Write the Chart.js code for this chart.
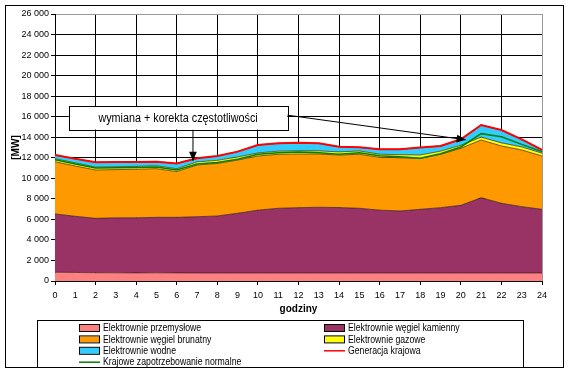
<!DOCTYPE html>
<html lang="pl">
<head>
  <meta charset="UTF-8">
  <title>Struktura generacji</title>
  <script src="https://cdn.jsdelivr.net/npm/chart.js"></script>
  <style>
    body { margin: 0; background: #fff; }
    #wrap { position: relative; width: 570px; height: 373px; }
  </style>
</head>
<body>
  <div id="wrap"><canvas id="myChart" width="570" height="373"></canvas></div>

  <script>
    // godziny 0..24
    const hours = ["0","1","2","3","4","5","6","7","8","9","10","11","12","13","14","15","16","17","18","19","20","21","22","23","24"];

    // MW
    const przemyslowe = [850,830,810,800,790,800,790,780,780,780,780,780,780,780,780,780,780,780,780,780,780,780,780,780,780];
    const kamienny    = [5680,5470,5290,5350,5360,5400,5410,5480,5550,5820,6120,6300,6360,6400,6370,6300,6120,6040,6200,6360,6590,7330,6790,6460,6200];
    const brunatny    = [5080,4900,4710,4700,4730,4740,4450,5040,5120,5180,5270,5260,5230,5190,5120,5260,5150,5180,4970,5200,5550,5620,5580,5520,5190];
    const gazowe      = [300,300,280,280,280,280,280,300,300,300,300,300,300,300,300,320,300,300,320,300,300,280,300,300,280];
    const wodne       = [370,400,470,450,430,400,520,350,420,520,780,770,800,740,510,360,480,530,720,510,580,1180,1250,740,310];
    const generacja   = [12270,11900,11560,11580,11590,11620,11450,11950,12170,12600,13250,13410,13470,13410,13080,13020,12830,12830,12990,13150,13800,15190,14700,13800,12760];
    const zapotrzebowanie = [11800,11400,11000,11020,11050,11100,10800,11400,11550,11850,12350,12500,12550,12500,12350,12500,12200,12100,11950,12400,13050,14350,14050,13300,12600];

    const yTicks = [0,2000,4000,6000,8000,10000,12000,14000,16000,18000,20000,22000,24000,26000];

    const adnotacja = "wymiana + korekta częstotliwości";

    function fmt(v) {
      return String(v).replace(/\B(?=(\d{3})+(?!\d))/g, " ");
    }

    function area(label, data, color, fill) {
      return {
        label: label, data: data, stack: "a", fill: fill,
        backgroundColor: color, borderColor: "rgba(40,20,20,0.8)", borderWidth: 0.8,
        pointRadius: 0, tension: 0
      };
    }

    // narrower text, like the original
    function narrowText(c, txt, x, y, sx) {
      c.save();
      c.translate(x, y);
      c.scale(sx, 1);
      c.fillText(txt, 0, 0);
      c.restore();
    }

    const frame = {
      id: "frame",
      beforeDraw(chart) {
        const c = chart.ctx;
        c.save();
        c.fillStyle = "#fff";
        c.fillRect(0, 0, chart.width, chart.height);
        c.strokeStyle = "#000";
        c.lineWidth = 1;
        c.strokeRect(5.5, 5.5, 558, 362);
        c.restore();
      },
      afterDraw(chart) {
        const c = chart.ctx;
        const x = chart.scales.x, y = chart.scales.y;
        c.save();
        function arrow(x1, y1, x2, y2) {
          c.strokeStyle = "#000"; c.fillStyle = "#000"; c.lineWidth = 1;
          c.beginPath(); c.moveTo(x1, y1); c.lineTo(x2, y2); c.stroke();
          const a = Math.atan2(y2 - y1, x2 - x1);
          c.beginPath();
          c.moveTo(x2, y2);
          c.lineTo(x2 - 10 * Math.cos(a - 0.4), y2 - 10 * Math.sin(a - 0.4));
          c.lineTo(x2 - 10 * Math.cos(a + 0.4), y2 - 10 * Math.sin(a + 0.4));
          c.closePath(); c.fill();
        }
        const bx1 = x.getPixelForValue(0.68), bx2 = x.getPixelForValue(11.45);
        const by1 = y.getPixelForValue(17050), by2 = y.getPixelForValue(14750);
        arrow(x.getPixelForValue(6.8), by2, x.getPixelForValue(6.8), y.getPixelForValue(11700));
        arrow(bx2, y.getPixelForValue(16150), x.getPixelForValue(20.25), y.getPixelForValue(13750));
        c.fillStyle = "#fff";
        c.fillRect(bx1, by1, bx2 - bx1, by2 - by1);
        c.strokeStyle = "#000";
        c.strokeRect(Math.round(bx1) + 0.5, Math.round(by1) + 0.5, Math.round(bx2 - bx1), Math.round(by2 - by1));
        c.fillStyle = "#000";
        c.font = "12px 'Liberation Sans', Arial, sans-serif";
        c.textAlign = "center"; c.textBaseline = "middle";
        narrowText(c, adnotacja, (bx1 + bx2) / 2, (by1 + by2) / 2 + 1, 0.9);

        // legend
        c.strokeStyle = "#000";
        c.lineWidth = 1;
        c.strokeRect(37.5, 320.5, 486, 47);
        c.font = "10px 'Liberation Sans', Arial, sans-serif";
        c.textAlign = "left";
        chart.data.datasets.forEach((ds, k) => {
          const col = k % 2, row = Math.floor(k / 2);
          const sx = col ? 324 : 79, ty = 328 + row * 11.4;
          if (ds.fill === false) {
            c.strokeStyle = ds.borderColor; c.lineWidth = 1.5;
            c.beginPath(); c.moveTo(sx, ty); c.lineTo(sx + 21, ty); c.stroke();
          } else {
            c.fillStyle = ds.backgroundColor;
            c.fillRect(sx, ty - 3, 21, 6);
            c.strokeStyle = "#000"; c.lineWidth = 1;
            c.strokeRect(sx + 0.5, ty - 3.5, 20, 7);
          }
          c.fillStyle = "#000";
          narrowText(c, ds.label, sx + 24, ty + 0.5, 0.87);
        });
        c.restore();
      }
    };

    new Chart(document.getElementById("myChart"), {
      type: "line",
      data: {
        labels: hours,
        datasets: [
          area("Elektrownie przemysłowe", przemyslowe, "#FF8080", "origin"),
          area("Elektrownie węgiel kamienny", kamienny, "#993366", "-1"),
          area("Elektrownie węgiel brunatny", brunatny, "#FF9900", "-1"),
          area("Elektrownie gazowe", gazowe, "#FFFF00", "-1"),
          area("Elektrownie wodne", wodne, "#33CCFF", "-1"),
          { type: "line", label: "Generacja krajowa", data: generacja, stack: "r", fill: false,
            borderColor: "#FF0000", borderWidth: 2, pointRadius: 0, order: -2 },
          { type: "line", label: "Krajowe zapotrzebowanie normalne", data: zapotrzebowanie, stack: "g", fill: false,
            borderColor: "#008000", borderWidth: 1.5, pointRadius: 0, order: -1 }
        ]
      },
      options: {
        responsive: false,
        animation: false,
        layout: { padding: { left: 10, right: 28, top: 14, bottom: 58 } },
        plugins: { legend: { display: false }, tooltip: { enabled: false } },
        scales: {
          x: {
            offset: false,
            grid: {
              color: (ctx) => ctx.index === 24 ? "#999" : (ctx.index % 2 === 0 ? "#000" : "rgba(0,0,0,0)"),
              tickColor: (ctx) => ctx.index % 2 === 0 ? "#000" : "rgba(0,0,0,0)",
              tickLength: 4
            },
            border: { color: "#000" },
            ticks: { color: "#000", font: { size: 9, family: "'Liberation Sans', Arial" }, maxRotation: 0, autoSkip: false, padding: 5 },
            title: { display: true, text: "godziny", color: "#000", padding: 0, font: { size: 10, weight: "bold", family: "'Liberation Sans', Arial" } },
            afterFit: (s) => { s.height = 34; }
          },
          y: {
            stacked: true,
            min: 0, max: 26000,
            afterBuildTicks: (s) => { s.ticks = yTicks.map(v => ({ value: v })); },
            grid: {
              color: (ctx) => ctx.tick && ctx.tick.value === 26000 ? "#999" : "#000",
              tickLength: 4, tickColor: "#000"
            },
            border: { color: "#000" },
            ticks: { color: "#000", font: { size: 9, family: "'Liberation Sans', Arial" }, padding: 2, callback: (v) => fmt(v) },
            title: { display: true, text: "[MW]", color: "#000", padding: 0, font: { size: 10, weight: "bold", family: "'Liberation Sans', Arial" } },
            afterFit: (s) => { s.width = 45; }
          }
        }
      },
      plugins: [frame]
    });
  </script>
</body>
</html>
